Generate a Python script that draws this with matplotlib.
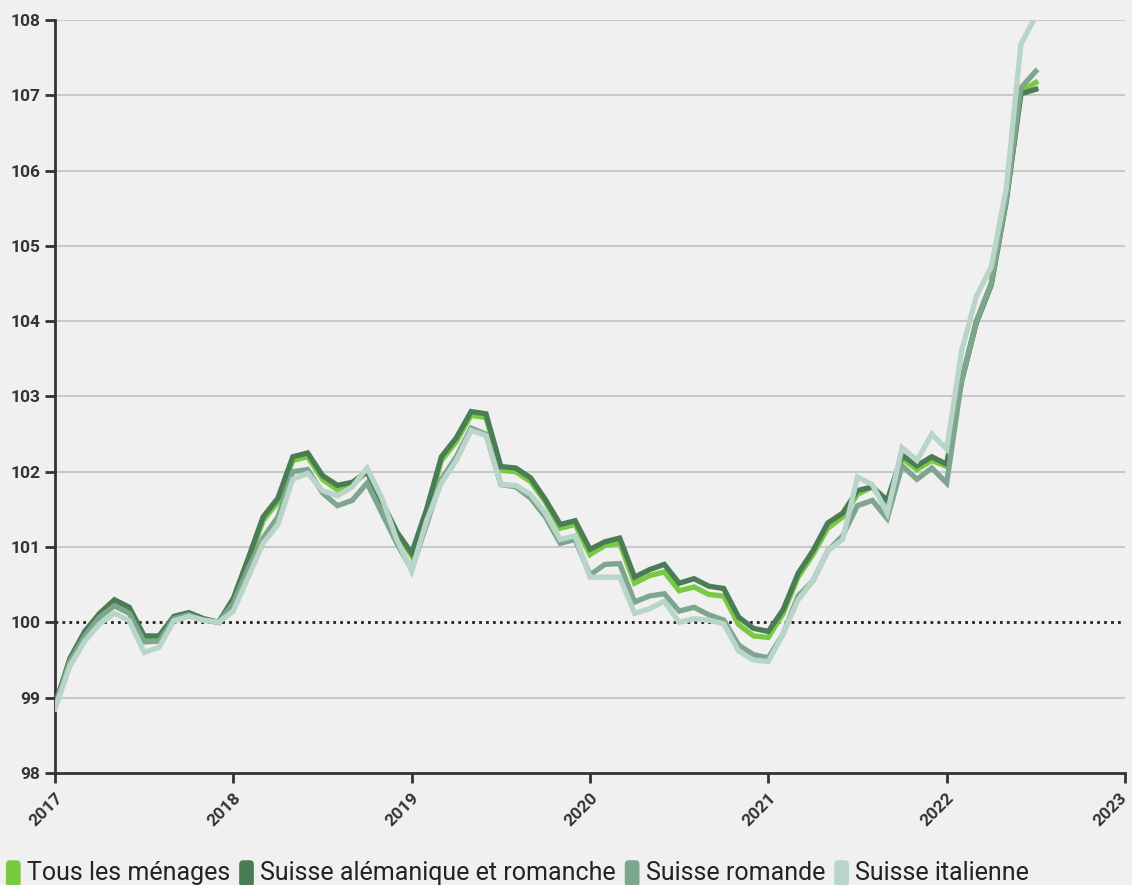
import matplotlib
matplotlib.use("Agg")
import matplotlib.pyplot as plt
import matplotlib.transforms as mtransforms
from matplotlib.patches import FancyBboxPatch, Patch
from matplotlib.legend_handler import HandlerPatch
import numpy as np

plt.rcParams['font.family'] = ['Roboto', 'DejaVu Sans']

start_year = 2017
series_names = ["Tous les ménages", "Suisse alémanique et romanche", "Suisse romande", "Suisse italienne"]
colors = ["#7ac943", "#4a7d56", "#7ea58d", "#b9d5c9"]

tous = [98.9, 99.5, 99.85, 100.1, 100.27, 100.17, 99.79, 99.79, 100.06, 100.11, 100.04, 100.0,
        100.3, 100.8, 101.35, 101.6, 102.15, 102.2, 101.9, 101.76, 101.83, 102.0, 101.6, 101.2,
        100.88, 101.45, 102.15, 102.4, 102.75, 102.72, 102.02, 102.0, 101.87, 101.6, 101.25, 101.3,
        100.9, 101.02, 101.05, 100.52, 100.62, 100.67, 100.42, 100.47, 100.37, 100.35, 99.97, 99.82,
        99.8, 100.12, 100.6, 100.9, 101.25, 101.4, 101.7, 101.8, 101.55, 102.18, 102.03, 102.15,
        102.07, 103.22, 104.0, 104.5, 105.6, 107.05, 107.17]
alemanique = [98.9, 99.52, 99.88, 100.12, 100.3, 100.2, 99.82, 99.82, 100.08, 100.13, 100.05, 100.0,
              100.32, 100.85, 101.4, 101.65, 102.2, 102.25, 101.95, 101.82, 101.86, 102.0, 101.6, 101.2,
              100.92, 101.5, 102.2, 102.45, 102.8, 102.77, 102.07, 102.05, 101.92, 101.63, 101.3, 101.35,
              100.97, 101.07, 101.12, 100.6, 100.7, 100.77, 100.52, 100.58, 100.48, 100.45, 100.07, 99.92,
              99.88, 100.17, 100.65, 100.95, 101.32, 101.45, 101.75, 101.8, 101.62, 102.22, 102.08, 102.2,
              102.1, 103.2, 103.98, 104.48, 105.58, 107.02, 107.08]
romande = [98.88, 99.48, 99.82, 100.07, 100.22, 100.12, 99.74, 99.75, 100.05, 100.1, 100.03, 100.0,
           100.25, 100.72, 101.12, 101.4, 102.0, 102.03, 101.72, 101.55, 101.62, 101.85, 101.45, 101.05,
           100.7, 101.3, 101.9, 102.2, 102.58, 102.5, 101.83, 101.8, 101.65, 101.4, 101.05, 101.1,
           100.63, 100.77, 100.78, 100.27, 100.35, 100.38, 100.15, 100.2, 100.1, 100.03, 99.7, 99.57,
           99.53, 99.85, 100.35, 100.55, 100.95, 101.15, 101.55, 101.62, 101.38, 102.08, 101.9, 102.05,
           101.85, 103.2, 104.0, 104.5, 105.6, 107.1, 107.32]
italienne = [98.85, 99.42, 99.75, 99.98, 100.12, 100.02, 99.6, 99.67, 100.02, 100.08, 100.03, 100.0,
             100.15, 100.6, 101.05, 101.3, 101.9, 101.98, 101.75, 101.68, 101.8, 102.05, 101.65, 101.1,
             100.68, 101.35, 101.85, 102.15, 102.55, 102.48, 101.83, 101.82, 101.7, 101.45, 101.1, 101.15,
             100.6, 100.6, 100.6, 100.12, 100.18, 100.28, 100.0, 100.05, 100.03, 99.98, 99.62, 99.5,
             99.48, 99.85, 100.3, 100.55, 100.95, 101.1, 101.93, 101.83, 101.45, 102.32, 102.15, 102.5,
             102.3, 103.6, 104.33, 104.72, 105.75, 107.68, 108.05]

y_ticks = list(range(98, 109))
x_years = list(range(2017, 2024))

data = [tous, alemanique, romande, italienne]
n = len(tous)
x = start_year + np.arange(n) / 12.0

bg = "#f0f0f0"
fig = plt.figure(figsize=(11.32, 8.85), dpi=100, facecolor=bg)
ax = fig.add_axes([0.0486, 0.1266, 0.9452, 0.8508], facecolor=bg)

for yv in y_ticks:
    if yv not in (98, 100):
        ax.axhline(yv, color="#c9c9c9", lw=1.5, zorder=1)
ax.axhline(100, color="#222222", lw=2, ls=(0, (1, 1.5)), zorder=2)

for vals, c in zip(data, colors):
    ax.plot(x, vals, color=c, lw=3.8, solid_joinstyle="miter", zorder=3)

ax.set_xlim(2017, 2023)
ax.set_ylim(98, 108)
ax.set_yticks(y_ticks)
ax.set_yticklabels([str(v) for v in y_ticks], fontsize=12.5, fontweight="bold", color="#333333")
ax.set_xticks(x_years)
ax.set_xticklabels([str(v) for v in x_years], fontsize=12.5, fontweight="bold", color="#333333",
                   rotation=45, ha="right", rotation_mode="anchor")
ax.tick_params(axis="both", length=7.5, width=2, color="#333333")
ax.tick_params(axis="x", pad=5)
ax.tick_params(axis="y", pad=3)
for s in ["top", "right"]:
    ax.spines[s].set_visible(False)
for s in ["left", "bottom"]:
    ax.spines[s].set_color("#333333")
    ax.spines[s].set_linewidth(2)

# keep the last year label inside the canvas
last_lbl = ax.get_xticklabels()[-1]
last_lbl.set_transform(last_lbl.get_transform() +
                       mtransforms.ScaledTranslation(-6 / 100, 0, fig.dpi_scale_trans))


class RoundHandler(HandlerPatch):
    def create_artists(self, legend, orig_handle, xdescent, ydescent, width, height, fontsize, trans):
        p = FancyBboxPatch((-xdescent + 1, -ydescent - 3), width - 2, height + 3,
                           boxstyle="round,pad=0,rounding_size=3",
                           facecolor=orig_handle.get_facecolor(), edgecolor="none", transform=trans)
        return [p]


handles = [Patch(facecolor=c, edgecolor=c) for c in colors]
leg = fig.legend(handles, series_names, loc="lower left", bbox_to_anchor=(0.004, 0.0),
                 ncol=4, frameon=False, fontsize=18, handlelength=0.7, handleheight=1.0,
                 handletextpad=0.2, columnspacing=0.3, borderaxespad=0.0, borderpad=0.0,
                 handler_map={Patch: RoundHandler()})
for t in leg.get_texts():
    t.set_color("#222222")

fig.savefig("out.png", dpi=100, facecolor=bg)
